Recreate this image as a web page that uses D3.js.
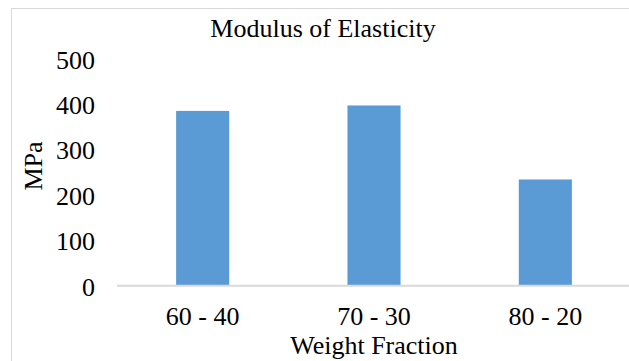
<!DOCTYPE html>
<html>
<head>
<meta charset="utf-8">
<script src="https://cdn.jsdelivr.net/npm/d3@7"></script>
<style>
  body { margin: 0; background: #fff; }
  svg text { font-family: "Liberation Serif", "Times New Roman", serif; fill: #000; }
</style>
</head>
<body>
<div id="chart"></div>
<script>
// data
var categories = ["60 - 40", "70 - 30", "80 - 20"];
var modulus = [385, 397, 234];
var yTicks = [0, 100, 200, 300, 400, 500];

var width = 629, height = 361;

var svg = d3.select("#chart")
  .append("svg")
  .attr("width", width)
  .attr("height", height);

// chart area border (runs off the right / bottom edge)
svg.append("rect")
  .attr("x", 11.5).attr("y", 8.5)
  .attr("width", 640).attr("height", 380)
  .attr("fill", "none")
  .attr("stroke", "#d9d9d9")
  .attr("stroke-width", 1);

var x = d3.scaleBand()
  .domain(categories)
  .range([117, 631])
  .paddingInner(0.69)
  .paddingOuter(0.345);

var y = d3.scaleLinear()
  .domain([0, 500])
  .range([285.7, 58.7]);

// bars
svg.append("g")
  .selectAll("rect")
  .data(modulus)
  .join("rect")
  .attr("x", function (d, i) { return x(categories[i]); })
  .attr("y", function (d) { return y(d); })
  .attr("width", x.bandwidth())
  .attr("height", function (d) { return y(0) - y(d); })
  .attr("fill", "#5b9bd5");

// baseline
svg.append("line")
  .attr("x1", 117).attr("x2", 631)
  .attr("y1", y(0)).attr("y2", y(0))
  .attr("stroke", "#d9d9d9")
  .attr("stroke-width", 2);

// y axis labels
var yAxis = d3.axisLeft(y).tickValues(yTicks).tickSize(0).tickPadding(0);
var yg = svg.append("g")
  .attr("transform", "translate(95,0)")
  .call(yAxis);
yg.select(".domain").remove();
yg.selectAll("text")
  .attr("font-size", 26)
  .attr("font-family", "Liberation Serif")
  .attr("dy", "0.36em");

// x axis labels
var xAxis = d3.axisBottom(x).tickSize(0).tickPadding(0);
var xg = svg.append("g")
  .attr("transform", "translate(0,325)")
  .call(xAxis);
xg.select(".domain").remove();
xg.selectAll("text")
  .attr("font-size", 26)
  .attr("font-family", "Liberation Serif")
  .attr("dy", 0);

// title
svg.append("text")
  .attr("x", 323).attr("y", 37)
  .attr("text-anchor", "middle")
  .attr("font-size", 26)
  .text("Modulus of Elasticity");

// axis titles
svg.append("text")
  .attr("transform", "translate(42,166) rotate(-90)")
  .attr("text-anchor", "middle")
  .attr("font-size", 26)
  .text("MPa");

svg.append("text")
  .attr("x", 374).attr("y", 354)
  .attr("text-anchor", "middle")
  .attr("font-size", 26)
  .text("Weight Fraction");
</script>
</body>
</html>
